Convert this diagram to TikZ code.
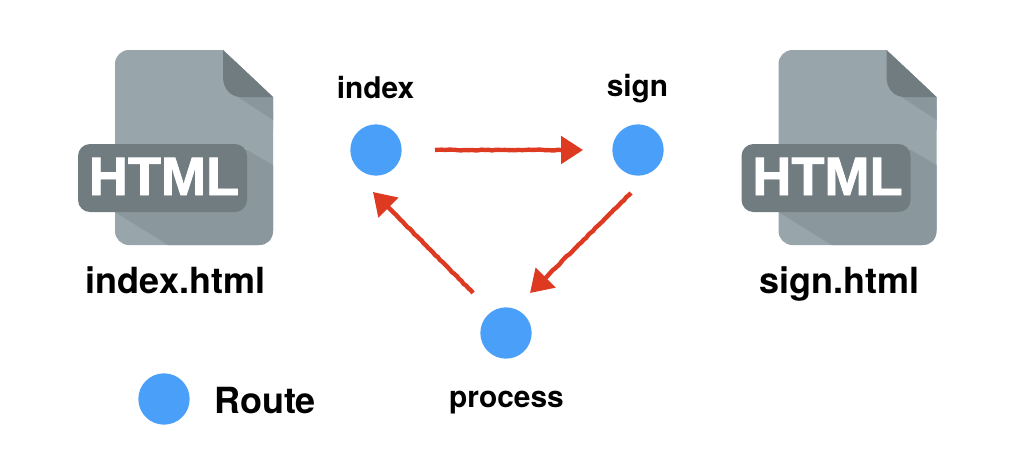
\documentclass[tikz,border=0pt]{standalone}
\usepackage{fontspec}
\setmainfont{TeX Gyre Heros}
\newfontfamily\iconfont[FakeBold=1.5]{Liberation Sans}
\usetikzlibrary{arrows.meta,decorations.pathmorphing}
\definecolor{bodygray}{HTML}{98A5AB}
\definecolor{shadegray}{HTML}{8A979D}
\definecolor{foldgray}{HTML}{717C81}
\definecolor{routeblue}{HTML}{4AA0F8}
\definecolor{arrowred}{HTML}{DE3A22}
\tikzset{
  routedot/.style={circle,fill=routeblue,draw=none,minimum size=38.5pt,inner sep=0pt},
  routelabel/.style={font=\bfseries\fontsize{22.4pt}{24pt}\selectfont,text=black,inner sep=0pt,anchor=base},
  filelabel/.style={font=\bfseries\fontsize{27pt}{30pt}\selectfont,text=black,inner sep=0pt,anchor=base},
  htmltext/.style={font=\iconfont\bfseries\fontsize{40.6pt}{42pt}\selectfont,text=white,inner sep=0pt,anchor=base},
  flow/.style={draw=arrowred,line width=3.3pt,
    -{Triangle[length=16.5pt,width=20.5pt,fill=arrowred]},
    decorate,decoration={random steps,segment length=2.5pt,amplitude=0.3pt,post length=14pt}},
  pics/fileicon/.style={code={
    \fill[bodygray,rounded corners=10.5pt] (0,0) -- (0,-195) -- (158,-195) -- (158,-47) -- (108,0) -- cycle;
    \fill[bodygray] (20,0) -- (108,0) -- (158,-47) -- (158,-80) -- (20,-80) -- cycle;
    \fill[shadegray] (123,-47) -- (158,-70) -- (158,-47) -- cycle;
    \fill[shadegray] (132,-100) -- (158,-115) -- (158,-180) .. controls (158,-190) and (152,-195) .. (144,-195) -- (53,-195) -- (0,-162) -- (0,-100) -- cycle;
    \fill[foldgray] (108,0) -- (158,-47) -- (126,-47) .. controls (115,-47) and (108,-38) .. (108,-27) -- cycle;
    \fill[foldgray,rounded corners=9pt] (-37,-94) rectangle (132,-162);
  }}
}
\begin{document}
\begin{tikzpicture}[x=0.75pt,y=-0.75pt]
\useasboundingbox (0,0) rectangle (1016,454);
\fill[white] (0,0) rectangle (1016,454);
\begin{scope}[y=0.75pt]
\pic at (115,-50) {fileicon};
\pic at (778.5,-50) {fileicon};
\end{scope}
\node[htmltext] (lefthtml) at (164,195) {HTML};
\node[htmltext] (righthtml) at (827.5,195) {HTML};
\node[filelabel] (leftfile) at (175.5,293.5) {index.html};
\node[filelabel] (rightfile) at (839,293.5) {sign.html};
\node[routedot] (indexdot) at (376,150) {};
\node[routedot] (signdot) at (638,150) {};
\node[routedot] (processdot) at (506,333) {};
\node[routedot] (legenddot) at (164,399) {};
\node[routelabel] (indexlabel) at (375.5,98) {index};
\node[routelabel] (signlabel) at (637.5,96) {sign};
\node[routelabel] (processlabel) at (506.5,407) {process};
\node[filelabel,anchor=base west] (legendlabel) at (214,413) {Route};
\coordinate (a1s) at (435,150);
\coordinate (a1e) at (583,150);
\coordinate (a2s) at (631,193);
\coordinate (a2e) at (530,293);
\coordinate (a3s) at (473,293);
\coordinate (a3e) at (373,192);
\draw[flow] (a1s) -- (a1e);
\draw[flow] (a2s) -- (a2e);
\draw[flow] (a3s) -- (a3e);
\end{tikzpicture}
\end{document}
